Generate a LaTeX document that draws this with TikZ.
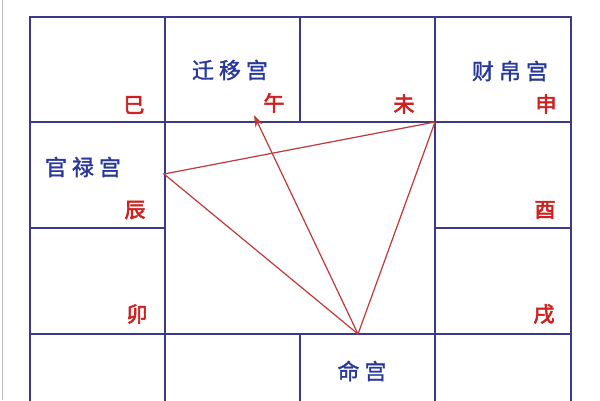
\documentclass[tikz,border=0pt]{standalone}
\usepackage{fontspec}
\newfontfamily\cjkp[FakeBold=1.5]{Noto Sans CJK SC}
\newfontfamily\cjkb[FakeBold=3]{Noto Sans CJK SC}
\definecolor{gridc}{HTML}{3A3A88}
\definecolor{bluet}{HTML}{28389A}
\definecolor{redt}{HTML}{D02020}
\definecolor{linec}{HTML}{C03838}
\usetikzlibrary{arrows.meta}
\begin{document}
\begin{tikzpicture}[x=1pt,y=-1pt,
  gridline/.style={draw=gridc,line width=1.6pt},
  palace/.style={text=bluet,font=\cjkp\fontsize{22}{22}\selectfont,inner sep=0pt,anchor=center},
  branch/.style={text=redt,font=\cjkb\fontsize{21}{21}\selectfont,inner sep=0pt,anchor=center},
  relline/.style={draw=linec,line width=1.2pt},
  relarrow/.style={relline,-{Stealth[length=12pt,width=8pt]}}]
\useasboundingbox (0,0) rectangle (600,400);
\fill[white] (0,0) rectangle (600,400);
\draw[black!25,line width=1pt] (2,0) -- (2,400);
\begin{scope}
\clip (0,0) rectangle (600,400);
% outer frame and lines
\draw[gridline] (30,440) -- (30,17) -- (571,17) -- (571,440);
\draw[gridline] (30,122) -- (571,122);
\draw[gridline] (30,334) -- (571,334);
\draw[gridline] (30,228) -- (165,228);
\draw[gridline] (435,228) -- (571,228);
\draw[gridline] (165,17) -- (165,440);
\draw[gridline] (435,17) -- (435,440);
\draw[gridline] (300,17) -- (300,122);
\draw[gridline] (300,334) -- (300,440);
\end{scope}
% palace names
\node[palace] (qianyi) at (230,70) {迁\hspace{5pt}移\hspace{5pt}宫};
\node[palace] (caibo) at (510,71) {财\hspace{5pt}帛\hspace{5pt}宫};
\node[palace] (guanlu) at (83,167) {官\hspace{5pt}禄\hspace{5pt}宫};
\node[palace] (ming) at (362,371) {命\hspace{5pt}宫};
% branches
\node[branch] (si) at (134,105) {巳};
\node[branch] (wu) at (274,103) {午};
\node[branch] (wei) at (404,104) {未};
\node[branch] (shen) at (546,104) {申};
\node[branch] (chen) at (135,210) {辰};
\node[branch] (you) at (545,210) {酉};
\node[branch] (mao) at (137,314) {卯};
\node[branch] (xu) at (544,314) {戌};
% triangle
\coordinate (pg) at (164,174);
\coordinate (pc) at (435,122);
\coordinate (pm) at (358,334);
\coordinate (pq) at (254,115);
\draw[relline] (pm) -- (pg) -- (pc) -- cycle;
\draw[relarrow] (pm) -- (pq);
\end{tikzpicture}
\end{document}
